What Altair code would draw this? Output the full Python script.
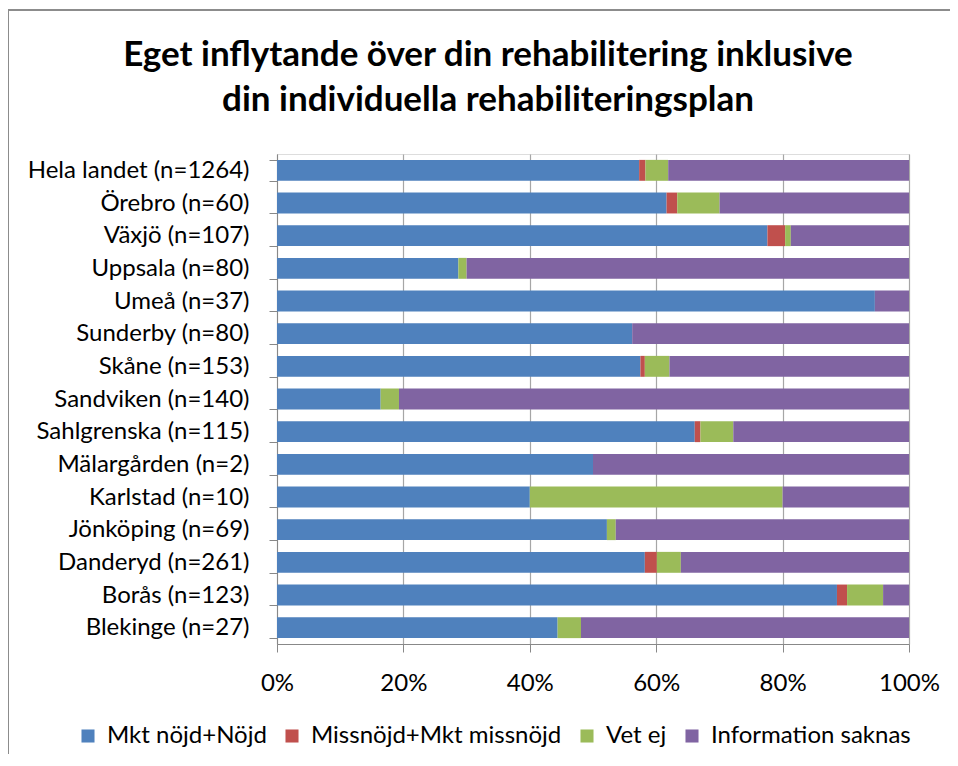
import altair as alt
import pandas as pd

sites = ["Hela landet (n=1264)", "Örebro (n=60)", "Växjö (n=107)", "Uppsala (n=80)",
         "Umeå (n=37)", "Sunderby (n=80)", "Skåne (n=153)", "Sandviken (n=140)",
         "Sahlgrenska (n=115)", "Mälargården (n=2)", "Karlstad (n=10)", "Jönköping (n=69)",
         "Danderyd (n=261)", "Borås (n=123)", "Blekinge (n=27)"]

categories = ["Mkt nöjd+Nöjd", "Missnöjd+Mkt missnöjd", "Vet ej", "Information saknas"]
colors = ["#4F81BD", "#C0504D", "#9BBB59", "#8064A2"]

title_lines = ["Eget inflytande över din rehabilitering inklusive",
               "din individuella rehabiliteringsplan"]

nojd = [57.3, 61.7, 77.6, 28.7, 94.6, 56.2, 57.5, 16.4, 66.1, 50.0, 40.0, 52.2, 58.2, 88.6, 44.4]
missnojd = [1.0, 1.7, 2.8, 0.0, 0.0, 0.0, 0.7, 0.0, 0.9, 0.0, 0.0, 0.0, 1.9, 1.6, 0.0]
vetej = [3.6, 6.7, 0.9, 1.3, 0.0, 0.0, 3.9, 2.9, 5.2, 0.0, 40.0, 1.4, 3.8, 5.7, 3.7]
saknas = [38.1, 30.0, 18.7, 70.0, 5.4, 43.8, 37.9, 80.7, 27.8, 50.0, 20.0, 46.4, 36.1, 4.1, 51.9]

series = [nojd, missnojd, vetej, saknas]
rows = []
for ci, (cat, vals) in enumerate(zip(categories, series)):
    for s, v in zip(sites, vals):
        rows.append({"site": s, "cat": cat, "value": v, "ord": ci})
df = pd.DataFrame(rows)

FONT = "Lato"

bars = alt.Chart(df).mark_bar().encode(
    y=alt.Y("site:N", sort=sites, title=None,
            scale=alt.Scale(paddingInner=0.36, paddingOuter=0.18),
            axis=alt.Axis(tickBand="extent", tickSize=8, labelPadding=20,
                          labelFontSize=24, labelColor="#000000", labelFont=FONT,
                          domainColor="#888888", tickColor="#888888", labelLimit=400)),
    x=alt.X("value:Q", stack="normalize", title=None,
            scale=alt.Scale(domain=[0, 1], nice=False),
            axis=alt.Axis(format="%", values=[0, 0.2, 0.4, 0.6, 0.8, 1.0], tickSize=8,
                          labelPadding=19, labelFontSize=24, labelColor="#000000",
                          labelFont=FONT, grid=True, gridColor="#a6a6a6", gridWidth=1.2,
                          domainColor="#888888", tickColor="#888888", labelFlush=False)),
    color=alt.Color("cat:N", sort=categories,
                    scale=alt.Scale(domain=categories, range=colors),
                    legend=alt.Legend(title=None, orient="none", direction="horizontal",
                                      legendX=-201, legendY=570,
                                      symbolType="square", symbolSize=170,
                                      symbolStrokeWidth=0, labelFontSize=24,
                                      labelFont=FONT, labelColor="#000000",
                                      labelOffset=7, columnPadding=13, labelLimit=400)),
    order=alt.Order("ord:Q"),
)

one = alt.Data(values=[{"k": 1}])
frame_left = alt.Chart(one).mark_rule(color="#8c8c8c", strokeWidth=2).encode(
    x=alt.value(-269), y=alt.value(-144), y2=alt.value(610))
frame_top = alt.Chart(one).mark_rule(color="#8c8c8c", strokeWidth=2).encode(
    x=alt.value(-270), x2=alt.value(680), y=alt.value(-144))

t1 = alt.Chart(one).mark_text(text=title_lines[0], font=FONT, fontSize=35, fontWeight="bold",
                              color="#000000", align="center", baseline="middle").encode(
    x=alt.value(211), y=alt.value(-99))
t2 = alt.Chart(one).mark_text(text=title_lines[1], font=FONT, fontSize=35, fontWeight="bold",
                              color="#000000", align="center", baseline="middle").encode(
    x=alt.value(211), y=alt.value(-54))

chart = alt.layer(bars, frame_left, frame_top, t1, t2).properties(
    width=632, height=490,
    autosize=alt.AutoSizeParams(type="none"),
    padding={"left": 269, "top": 146, "right": 41, "bottom": 110},
).configure_view(stroke=None).configure(background="white")

chart.save("out.html", embed_options={"renderer": "svg", "actions": False})
